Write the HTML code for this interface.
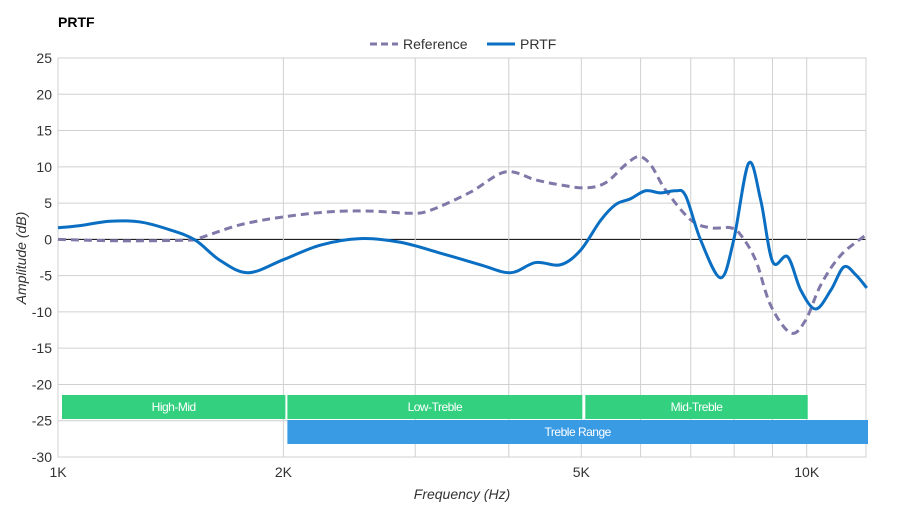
<!DOCTYPE html>
<html><head><meta charset="utf-8"><style>
body{margin:0;background:#fff;font-family:"Liberation Sans",sans-serif}
svg text{font-family:"Liberation Sans",sans-serif}
</style></head><body>
<svg id="c" width="900" height="520">
<text x="58" y="27" font-size="14" font-weight="bold" fill="#000">PRTF</text>
<g>
<g><line x1="370" y1="44" x2="398" y2="44" stroke="#7f78a8" stroke-width="3" stroke-dasharray="7,4"/><text x="403" y="49" font-size="14" fill="#333">Reference</text></g>
<g><line x1="487" y1="44" x2="515" y2="44" stroke="#0a6fc2" stroke-width="3"/><text x="520" y="49" font-size="14" fill="#333">PRTF</text></g>
</g>
<g id="grid"></g>
<g id="bands"></g>
<g id="series"></g>
<g id="axes"></g>
<text x="462" y="499" font-size="14" font-style="italic" text-anchor="middle" fill="#333">Frequency (Hz)</text>
<text transform="translate(26,258) rotate(-90)" font-size="14" font-style="italic" text-anchor="middle" fill="#333">Amplitude (dB)</text>
</svg>
<script>
const yTicks=[25,20,15,10,5,0,-5,-10,-15,-20,-25,-30];
const xGrid=[1000,2000,3000,4000,5000,6000,7000,8000,9000,10000,12000];
const xTickLabels=[[1000,"1K"],[2000,"2K"],[5000,"5K"],[10000,"10K"]];
const refFreq=[1000,1210,1502,1548,1751,2000,2310,2613,2955,3143,3554,3959,4342,4690,5065,5386,5728,5963,6186,6479,6997,7439,7914,8164,8549,8951,9520,9970,10440,11100,12030];
const refDb=[0,-0.2,-0.1,0.2,2.0,3.1,3.8,3.9,3.6,4.0,6.5,9.3,8.2,7.5,7.1,7.8,10.3,11.4,10.3,6.8,2.7,1.6,1.6,0.6,-2.9,-9.1,-12.9,-11.1,-6.3,-2.2,0.7];
const prtfFreq=[1000,1070,1173,1287,1412,1525,1646,1795,2000,2240,2533,2866,3242,3665,4020,4342,4690,4988,5304,5556,5818,6093,6380,6681,6891,7217,7674,7988,8365,8681,9006,9432,9818,10280,10770,11210,11630,12030];
const prtfDb=[1.6,1.9,2.5,2.4,1.3,-0.1,-2.9,-4.6,-2.8,-0.8,0.1,-0.4,-1.9,-3.5,-4.6,-3.2,-3.5,-1.5,2.6,4.8,5.6,6.7,6.4,6.7,6.0,-0.1,-5.3,-0.1,10.5,5.4,-3.1,-2.4,-7.0,-9.6,-7.0,-3.8,-4.9,-6.7];
const bandNames=["High-Mid","Low-Treble","Mid-Treble","Treble Range"];
const bandStart=[1000,2000,5000,2000];
const bandEnd=[2000,5000,10000,12000];
const bandRow=[0,0,0,1];
const NS="http://www.w3.org/2000/svg";
const X0=58,X1=866,Y0=58,Y1=457;
const x=f=>X0+(Math.log10(f)-3)/Math.log10(12)*(X1-X0)*Math.log10(12)/ (Math.log10(12000)-3);
const y=v=>Y0+(25-v)/55*(Y1-Y0);
function mk(t,a,p){const e=document.createElementNS(NS,t);for(const k in a)e.setAttribute(k,a[k]);p.appendChild(e);return e;}
const grid=document.getElementById('grid');
mk('rect',{x:X0,y:Y0,width:X1-X0,height:Y1-Y0,fill:'none',stroke:'#ccc'},grid);
yTicks.forEach(v=>{
 const l=mk('line',{x1:X0,x2:X1,y1:y(v),y2:y(v),stroke:v===0?'#000':'#d0d0d0','stroke-width':1},grid);
 
 
 const t=mk('text',{x:52,y:y(v)+5,'font-size':14,'text-anchor':'end',fill:'#333'},grid);t.textContent=v;
 
 
});
xGrid.forEach(f=>{
 const l=mk('line',{x1:x(f),x2:x(f),y1:Y0,y2:Y1,stroke:'#d0d0d0'},grid);
 
 
});
xTickLabels.forEach(([f,s])=>{
 const t=mk('text',{x:x(f),y:477,'font-size':14,'text-anchor':'middle',fill:'#333'},grid);t.textContent=s;
 
 
});
const bands=document.getElementById('bands');
bandNames.forEach((n,i)=>{
 const yy=bandRow[i]?420:395;
 const x1=x(bandStart[i])+(i===0?4:4), x2=x(bandEnd[i])+(i===3?2:(i===0?2:1));
 const r=mk('rect',{x:x1,y:yy,width:x2-x1,height:24,fill:bandRow[i]?'#3a9be5':'#33d17f'},bands);
 
 
 const t=mk('text',{x:(x1+x2)/2,y:yy+16,'font-size':12,'text-anchor':'middle',fill:'#fff','letter-spacing':'-0.5'},bands);t.textContent=n;
 
 
});
function path(fs,ds){
 const p=fs.map((f,i)=>[x(f),y(ds[i])]);
 let d='M'+p[0][0]+','+p[0][1];
 for(let i=0;i<p.length-1;i++){
  const a=p[Math.max(0,i-1)],b=p[i],c=p[i+1],e=p[Math.min(p.length-1,i+2)];
  d+=' C'+(b[0]+(c[0]-a[0])/6)+','+(b[1]+(c[1]-a[1])/6)+' '+(c[0]-(e[0]-b[0])/6)+','+(c[1]-(e[1]-b[1])/6)+' '+c[0]+','+c[1];
 }
 return d;
}
const s=document.getElementById('series');
const r=mk('path',{d:path(refFreq,refDb),fill:'none',stroke:'#7f78a8','stroke-width':3,'stroke-dasharray':'8,5'},s);


const p=mk('path',{d:path(prtfFreq,prtfDb),fill:'none',stroke:'#0a6fc2','stroke-width':3},s);


</script>
</body></html>
